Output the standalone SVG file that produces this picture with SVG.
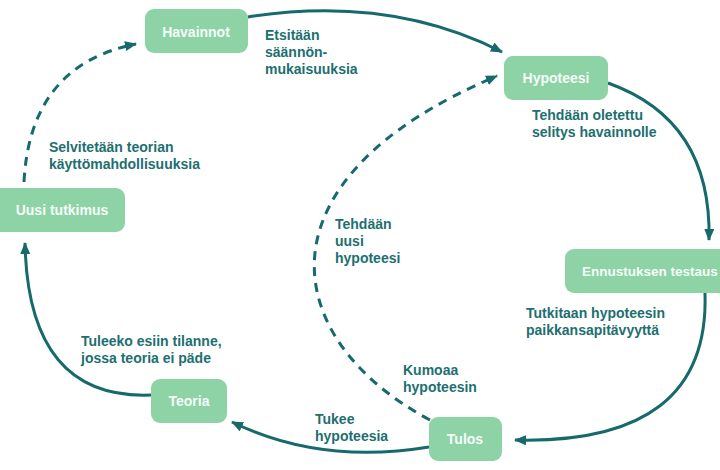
<svg xmlns="http://www.w3.org/2000/svg" width="720" height="470" viewBox="0 0 720 470">
<style>
.node rect{fill:#8dd3a6;}
.node text{fill:#f6fcf8;font-family:"Liberation Sans",Arial,sans-serif;font-weight:bold;font-size:14px;text-anchor:middle;}
.lbl{fill:#1d6f70;font-family:"Liberation Sans",Arial,sans-serif;font-weight:bold;font-size:14px;}
.c{fill:none;stroke:#176a6c;stroke-width:3;}
.d{stroke-dasharray:9 7;}
</style>
<defs>
<marker id="ah" viewBox="0 0 12 10" refX="11" refY="5" markerWidth="12" markerHeight="10" markerUnits="userSpaceOnUse" orient="auto">
<path d="M0,0 L12,5 L0,10 Z" fill="#176a6c"/>
</marker>
</defs>
<g id="connectors">
<path class="c" d="M248,17 Q390,-5 502,52" marker-end="url(#ah)"/>
<path class="c" d="M608,83 Q712,120 709,240" marker-end="url(#ah)"/>
<path class="c" d="M705,293 Q710,445 515,440" marker-end="url(#ah)"/>
<path class="c" d="M429,447 Q320,465 232,422" marker-end="url(#ah)"/>
<path class="c" d="M151,395 Q28,400 25,243" marker-end="url(#ah)"/>
<path class="c d" d="M24,182 Q30,65 136,44" marker-end="url(#ah)"/>
<path class="c d" d="M430,420 C280,340 250,180 497,76" marker-end="url(#ah)"/>
</g>
<g id="havainnot" class="node"><rect x="145" y="9" width="103" height="44" rx="9"/><text x="196" y="37">Havainnot</text></g>
<g id="hypoteesi" class="node"><rect x="504" y="56" width="104" height="44" rx="9"/><text x="556" y="83">Hypoteesi</text></g>
<g id="uusi-tutkimus" class="node"><rect x="-10" y="188" width="135" height="44" rx="9"/><text x="62" y="215">Uusi tutkimus</text></g>
<g id="ennustuksen-testaus" class="node"><rect x="565" y="249" width="175" height="44" rx="9"/><text x="582" y="276" style="text-anchor:start;font-size:13.5px">Ennustuksen testaus</text></g>
<g id="tulos" class="node"><rect x="429" y="417" width="73" height="44" rx="9"/><text x="465" y="444">Tulos</text></g>
<g id="teoria" class="node"><rect x="151" y="379" width="76" height="44" rx="9"/><text x="189" y="406">Teoria</text></g>
<g id="labels">
<text class="lbl" x="265" y="40">Etsitään</text>
<text class="lbl" x="265" y="57">säännön-</text>
<text class="lbl" x="265" y="74">mukaisuuksia</text>
<text class="lbl" x="49" y="152">Selvitetään teorian</text>
<text class="lbl" x="49" y="169">käyttömahdollisuuksia</text>
<text class="lbl" x="532" y="120">Tehdään oletettu</text>
<text class="lbl" x="532" y="137">selitys havainnolle</text>
<text class="lbl" x="335" y="229">Tehdään</text>
<text class="lbl" x="335" y="246">uusi</text>
<text class="lbl" x="335" y="263">hypoteesi</text>
<text class="lbl" x="526" y="318">Tutkitaan hypoteesin</text>
<text class="lbl" x="526" y="335">paikkansapitävyyttä</text>
<text class="lbl" x="403" y="375">Kumoaa</text>
<text class="lbl" x="403" y="392">hypoteesin</text>
<text class="lbl" x="81" y="346">Tuleeko esiin tilanne,</text>
<text class="lbl" x="81" y="363">jossa teoria ei päde</text>
<text class="lbl" x="315" y="424">Tukee</text>
<text class="lbl" x="315" y="441">hypoteesia</text>
</g>
</svg>
